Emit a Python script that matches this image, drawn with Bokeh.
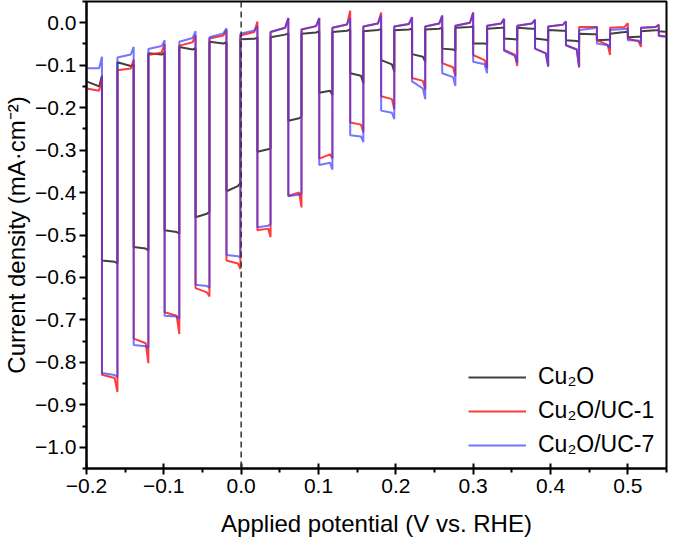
from bokeh.plotting import figure
from bokeh.models import FixedTicker, CustomJSTickFormatter, Span, Range1d
from bokeh.embed import file_html
from bokeh.resources import INLINE

# ---- chopped-light LSV data ----
scan_start = -0.20
light_on = [-0.180, -0.139, -0.099, -0.059, -0.019, 0.021, 0.061, 0.101, 0.141, 0.181,
            0.221, 0.260, 0.300, 0.340, 0.380, 0.420, 0.460, 0.500, 0.540]
light_off = [-0.160, -0.120, -0.080, -0.041, -0.001, 0.038, 0.078, 0.118, 0.158, 0.198,
             0.238, 0.277, 0.318, 0.357, 0.397, 0.437, 0.477, 0.517, 0.550]

# Cu2O
cu2o_dark_start = [-0.138, -0.093, -0.072, -0.057, -0.045, -0.039, -0.034, -0.026, -0.022, -0.020,
                   -0.018, -0.016, -0.012, -0.014, -0.012, -0.017, -0.026, -0.026, -0.020]
cu2o_dark_knee = [-0.150, -0.102, -0.075, -0.063, -0.049, -0.038, -0.028, -0.023, -0.019, -0.017,
                  -0.016, -0.014, -0.010, -0.012, -0.014, -0.019, -0.027, -0.022, -0.018]
cu2o_dark_end = [-0.125, -0.098, -0.070, -0.060, -0.046, -0.035, -0.025, -0.020, -0.016, -0.015,
                 -0.014, -0.012, -0.009, -0.011, -0.014, -0.019, -0.027, -0.021, -0.017]
cu2o_light_start = [-0.560, -0.528, -0.489, -0.458, -0.397, -0.304, -0.231, -0.165, -0.119, -0.088,
                    -0.074, -0.061, -0.049, -0.037, -0.037, -0.041, -0.041, -0.034, -0.020]
cu2o_light_knee = [-0.563, -0.532, -0.493, -0.450, -0.385, -0.298, -0.225, -0.160, -0.125, -0.098,
                   -0.080, -0.063, -0.049, -0.039, -0.040, -0.043, -0.040, -0.033, -0.021]
cu2o_light_end = [-0.567, -0.536, -0.497, -0.445, -0.377, -0.296, -0.221, -0.170, -0.143, -0.115,
                  -0.092, -0.066, -0.050, -0.040, -0.043, -0.045, -0.040, -0.033, -0.021]

# Cu2O/UC-1
uc1_dark_start = [-0.155, -0.112, -0.076, -0.054, -0.037, -0.030, -0.022, -0.016, -0.012, -0.009,
                  -0.009, -0.009, -0.007, -0.007, -0.007, -0.009, -0.010, -0.012, -0.012]
uc1_dark_knee = [-0.160, -0.108, -0.070, -0.046, -0.030, -0.022, -0.012, -0.008, -0.004, -0.002,
                 -0.003, -0.002, 0.000, -0.002, -0.002, -0.005, -0.010, -0.010, -0.010]
uc1_dark_end = [-0.130, -0.087, -0.050, -0.030, -0.017, 0.003, 0.011, 0.011, 0.028, 0.024,
                0.013, 0.017, 0.024, 0.009, 0.007, 0.003, -0.010, -0.001, -0.004]
uc1_light_start = [-0.829, -0.744, -0.682, -0.625, -0.560, -0.489, -0.408, -0.320, -0.235, -0.173,
                   -0.130, -0.095, -0.076, -0.064, -0.061, -0.053, -0.041, -0.037, -0.030]
uc1_light_knee = [-0.837, -0.755, -0.690, -0.635, -0.567, -0.485, -0.400, -0.310, -0.240, -0.180,
                  -0.137, -0.105, -0.088, -0.075, -0.072, -0.063, -0.052, -0.044, -0.032]
uc1_light_end = [-0.870, -0.802, -0.733, -0.645, -0.580, -0.505, -0.435, -0.320, -0.258, -0.204,
                 -0.157, -0.126, -0.107, -0.102, -0.103, -0.105, -0.076, -0.057, -0.032]

# Cu2O/UC-7
uc7_dark_start = [-0.107, -0.082, -0.062, -0.045, -0.034, -0.026, -0.022, -0.016, -0.012, -0.009,
                  -0.009, -0.009, -0.007, -0.007, -0.007, -0.009, -0.017, -0.017, -0.012]
uc7_dark_knee = [-0.107, -0.075, -0.055, -0.036, -0.025, -0.018, -0.012, -0.008, -0.004, -0.002,
                 -0.003, -0.002, 0.000, -0.002, -0.002, -0.005, -0.013, -0.015, -0.010]
uc7_dark_end = [-0.080, -0.057, -0.041, -0.020, -0.013, -0.008, 0.011, 0.011, 0.011, 0.017,
                0.013, 0.017, 0.024, 0.009, 0.007, 0.003, -0.009, -0.013, -0.006]
uc7_light_start = [-0.825, -0.759, -0.690, -0.617, -0.547, -0.482, -0.408, -0.335, -0.265, -0.207,
                   -0.138, -0.119, -0.092, -0.066, -0.061, -0.053, -0.049, -0.041, -0.031]
uc7_light_knee = [-0.830, -0.762, -0.692, -0.620, -0.550, -0.478, -0.405, -0.330, -0.268, -0.212,
                  -0.155, -0.128, -0.098, -0.078, -0.072, -0.063, -0.053, -0.042, -0.033]
uc7_light_end = [-0.835, -0.765, -0.697, -0.625, -0.553, -0.474, -0.402, -0.346, -0.281, -0.227,
                 -0.180, -0.149, -0.119, -0.095, -0.103, -0.105, -0.060, -0.049, -0.033]

x_ticks = [-0.2, -0.1, 0.0, 0.1, 0.2, 0.3, 0.4, 0.5]
y_ticks = [-1.0, -0.9, -0.8, -0.7, -0.6, -0.5, -0.4, -0.3, -0.2, -0.1, 0.0]
series_names = ["Cu\u2082O", "Cu\u2082O/UC-1", "Cu\u2082O/UC-7"]


def trace(ds, dk, de, ls, lk, le, frac=0.82):
    xs, ys = [], []
    d_starts = [scan_start] + light_off[:-1]
    for i in range(len(light_on)):
        a, b = d_starts[i], light_on[i]
        xs += [a, a + frac * (b - a), b]
        ys += [ds[i], dk[i], de[i]]
        a, b = light_on[i], light_off[i]
        xs += [a, a + frac * (b - a), b]
        ys += [ls[i], lk[i], le[i]]
    return xs, ys


FONT = "Liberation Sans"

p = figure(width=669, height=540, output_backend="svg", toolbar_location=None,
           x_range=Range1d(-0.2, 0.55), y_range=Range1d(-1.05, 0.05),
           min_border_left=82, min_border_right=3, min_border_top=1, min_border_bottom=72)
p.background_fill_color = "white"
p.border_fill_color = "white"
p.outline_line_color = "black"
p.outline_line_width = 2
p.xgrid.visible = False
p.ygrid.visible = False

zero = Span(location=0.0, dimension="height", line_color="#333333", line_width=1.5,
            line_dash="6 4")
p.add_layout(zero)

styles = [("#404040", 1.0), ("#ff1a1a", 0.85), ("#3a3aff", 0.7)]
data = [
    (cu2o_dark_start, cu2o_dark_knee, cu2o_dark_end, cu2o_light_start, cu2o_light_knee, cu2o_light_end),
    (uc1_dark_start, uc1_dark_knee, uc1_dark_end, uc1_light_start, uc1_light_knee, uc1_light_end),
    (uc7_dark_start, uc7_dark_knee, uc7_dark_end, uc7_light_start, uc7_light_knee, uc7_light_end),
]
for name, (col, alpha), d in zip(series_names, styles, data):
    xs, ys = trace(*d)
    p.line(xs, ys, line_color=col, line_alpha=alpha, line_width=2, legend_label=name)

for ax in (p.xaxis[0], p.yaxis[0]):
    ax.axis_line_width = 2
    ax.axis_line_color = "black"
    ax.major_tick_line_width = 2
    ax.minor_tick_line_width = 2
    ax.major_tick_line_color = "black"
    ax.minor_tick_line_color = "black"
    ax.major_label_text_font = FONT
    ax.major_label_text_font_size = "21px"
    ax.major_label_text_color = "black"
    ax.axis_label_text_font = FONT
    ax.axis_label_text_font_size = "24px"
    ax.axis_label_text_font_style = "normal"
    ax.axis_label_text_color = "black"

p.xaxis.ticker = FixedTicker(ticks=x_ticks, minor_ticks=[-0.15, -0.05, 0.05, 0.15, 0.25, 0.35, 0.45, 0.55])
p.yaxis.ticker = FixedTicker(ticks=y_ticks, minor_ticks=[-1.05, -0.95, -0.85, -0.75, -0.65, -0.55, -0.45,
                                                          -0.35, -0.25, -0.15, -0.05, 0.05])
fmt = CustomJSTickFormatter(code="return (tick < -1e-9 ? '\u2212' : '') + Math.abs(tick).toFixed(1);")
p.xaxis.formatter = fmt
p.yaxis.formatter = fmt
p.xaxis.major_tick_in = 5
p.xaxis.major_tick_out = 6
p.xaxis.minor_tick_in = 0
p.xaxis.minor_tick_out = 4
p.yaxis.major_tick_in = 0
p.yaxis.major_tick_out = 7
p.yaxis.minor_tick_in = 0
p.yaxis.minor_tick_out = 4
p.xaxis.major_label_standoff = 4
p.yaxis.major_label_standoff = 3
p.xaxis.axis_label = "Applied potential (V vs. RHE)"
p.yaxis.axis_label = "Current density (mA\u00b7cm\u207b\u00b2)"
p.xaxis.axis_label_standoff = 14
p.xaxis.axis_label_text_line_height = 0.8
p.yaxis.axis_label_standoff = 2

lg = p.legend[0]
lg.location = (382, 10)
lg.border_line_alpha = 0
lg.background_fill_alpha = 0
lg.label_text_font = FONT
lg.label_text_font_size = "23px"
lg.label_text_color = "black"
lg.glyph_width = 58
lg.glyph_height = 24
lg.label_height = 24
lg.spacing = 7
lg.padding = 0
lg.margin = 0
lg.label_standoff = 12

open("out.html", "w").write(file_html(p, INLINE))
